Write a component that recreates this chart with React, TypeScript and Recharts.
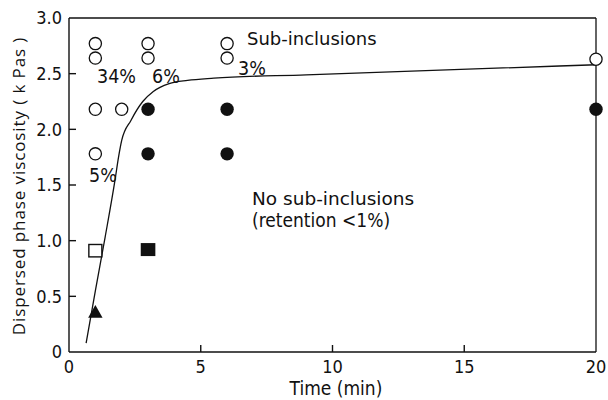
import React from "react";
import {
  ComposedChart, Line, Scatter, XAxis, YAxis, ReferenceLine,
} from "recharts";

// fitted curve
const curveX = [0.65, 1.0, 1.37, 1.75, 1.88, 2.0, 2.35, 2.8, 3.2, 3.8, 4.5, 5.5, 9, 20];
const curveY = [0.08, 0.55, 1.03, 1.55, 1.75, 1.9, 2.08, 2.25, 2.34, 2.41, 2.44, 2.46, 2.49, 2.58];

// sub-inclusions (open circles)
const openX = [1, 1, 1, 1, 2, 3, 3, 6, 6, 20];
const openY = [2.77, 2.64, 2.18, 1.78, 2.18, 2.77, 2.64, 2.77, 2.64, 2.63];

// no sub-inclusions (filled circles)
const filledX = [3, 3, 6, 6, 20];
const filledY = [2.18, 1.78, 2.18, 1.78, 2.18];

const openSqX = [1];
const openSqY = [0.91];
const filledSqX = [3];
const filledSqY = [0.92];
const triX = [1];
const triY = [0.36];

const xTicks = [0, 5, 10, 15, 20];
const yTicks = [0, 0.5, 1.0, 1.5, 2.0, 2.5, 3.0];
// inward tick marks (edge ones are hidden by the frame)
const xInnerTicks = [5, 10, 15];
const yInnerTicks = [0.5, 1.0, 1.5, 2.0, 2.5];

const zip = (xs: number[], ys: number[]) => xs.map((x, i) => ({ x, y: ys[i] }));

const curveData = zip(curveX, curveY);
const openData = zip(openX, openY);
const filledData = zip(filledX, filledY);
const openSqData = zip(openSqX, openSqY);
const filledSqData = zip(filledSqX, filledSqY);
const triData = zip(triX, triY);
const xTickData = xInnerTicks.map((x) => ({ x, y: 0 }));
const yTickData = yInnerTicks.map((y) => ({ x: 0, y }));

const INK = "#111";
const TICK_FONT = "'DejaVu Sans Condensed', 'DejaVu Sans', sans-serif";
const tickStyle = { fill: INK, fontSize: 18, fontFamily: TICK_FONT };

/* eslint-disable @typescript-eslint/no-explicit-any */
const XTickMark = (p: any) => (
  <line x1={p.cx} x2={p.cx} y1={p.cy} y2={p.cy - 7} stroke={INK} strokeWidth={1.4} />
);
const YTickMark = (p: any) => (
  <line x1={p.cx} x2={p.cx + 7} y1={p.cy} y2={p.cy} stroke={INK} strokeWidth={1.4} />
);
const OpenCircle = (p: any) => (
  <circle cx={p.cx} cy={p.cy} r={6.1} fill="#fff" stroke={INK} strokeWidth={1.3} />
);
const FilledCircle = (p: any) => <circle cx={p.cx} cy={p.cy} r={6.7} fill={INK} />;
const OpenSquare = (p: any) => (
  <rect x={p.cx - 6.5} y={p.cy - 6.2} width={13} height={12.4} fill="#fff" stroke={INK} strokeWidth={1.4} />
);
const FilledSquare = (p: any) => (
  <rect x={p.cx - 7.3} y={p.cy - 6.5} width={14.6} height={13} fill={INK} />
);
const Triangle = (p: any) => (
  <path d={`M${p.cx},${p.cy - 7} L${p.cx + 7.2},${p.cy + 5.8} L${p.cx - 7.2},${p.cy + 5.8} Z`} fill={INK} />
);
/* eslint-enable @typescript-eslint/no-explicit-any */

export default function App() {
  return (
    <div style={{ position: "absolute", left: 0, top: 0, background: "#fff" }}>
      <ComposedChart width={608} height={400} margin={{ top: 18, right: 12, bottom: 0, left: 0 }}>
        <XAxis
          type="number" dataKey="x" domain={[0, 20]} ticks={xTicks}
          height={48} tickSize={-7} tickMargin={15} tickLine={false}
          stroke={INK} strokeWidth={1.4} tick={tickStyle}
          allowDuplicatedCategory={false}
        />
        <YAxis
          type="number" dataKey="y" domain={[0, 3]} ticks={yTicks}
          width={69} tickSize={-7} tickMargin={14} tickLine={false}
          stroke={INK} strokeWidth={1.4} tick={tickStyle}
          tickFormatter={(v: number) => (v === 0 ? "0" : v.toFixed(1))}
        />

        <ReferenceLine y={3} stroke={INK} strokeWidth={1.3} />
        <ReferenceLine x={20} stroke={INK} strokeWidth={1.3} />
        <Scatter data={xTickData} shape={XTickMark} isAnimationActive={false} />
        <Scatter data={yTickData} shape={YTickMark} isAnimationActive={false} />

        <Line data={curveData} dataKey="y" type="monotone" stroke={INK} strokeWidth={1.3}
              dot={false} isAnimationActive={false} />

        <Scatter data={openData} shape={OpenCircle} isAnimationActive={false} />
        <Scatter data={filledData} shape={FilledCircle} isAnimationActive={false} />
        <Scatter data={openSqData} shape={OpenSquare} isAnimationActive={false} />
        <Scatter data={filledSqData} shape={FilledSquare} isAnimationActive={false} />
        <Scatter data={triData} shape={Triangle} isAnimationActive={false} />

        {/* annotations */}
        <text x={247} y={45} fill={INK} fontSize={18} fontFamily="'DejaVu Sans', sans-serif">Sub-inclusions</text>
        <text x={252} y={205} fill={INK} fontSize={18.5} fontFamily="'DejaVu Sans', sans-serif">No sub-inclusions</text>
        <text x={252} y={227} fill={INK} fontSize={19} fontFamily={TICK_FONT}>(retention &lt;1%)</text>
        <text x={97} y={83} fill={INK} fontSize={19.5} fontFamily={TICK_FONT}>34%</text>
        <text x={152} y={83} fill={INK} fontSize={19.5} fontFamily={TICK_FONT}>6%</text>
        <text x={238} y={75} fill={INK} fontSize={19.5} fontFamily={TICK_FONT}>3%</text>
        <text x={89} y={182} fill={INK} fontSize={19.5} fontFamily={TICK_FONT}>5%</text>

        {/* axis titles */}
        <text x={336} y={395} textAnchor="middle" fill={INK} fontSize={19} fontFamily={TICK_FONT}>Time (min)</text>
        <text x={18} y={186} transform="rotate(-90 18 186)" textAnchor="middle" dominantBaseline="central"
              fill={INK} fontSize={17} letterSpacing={0.9} fontFamily="'Open Sans', sans-serif">
          Dispersed phase viscosity ( k Pas )
        </text>
      </ComposedChart>
    </div>
  );
}
